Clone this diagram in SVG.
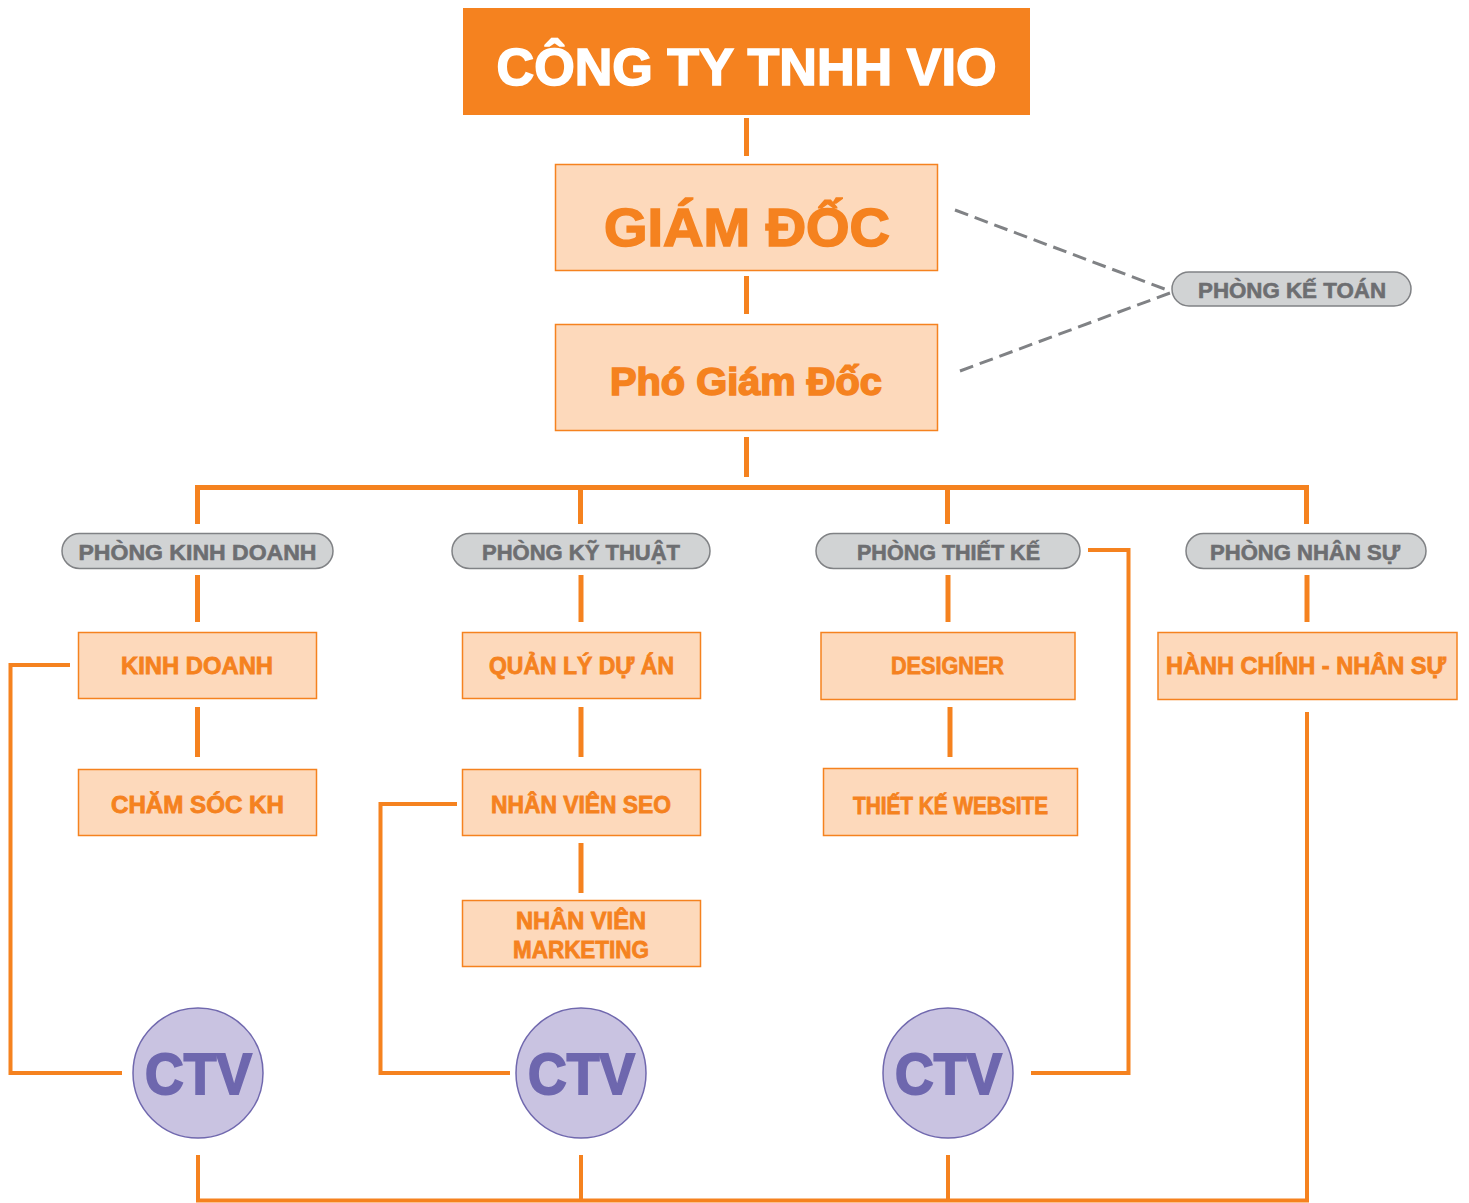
<svg xmlns="http://www.w3.org/2000/svg" width="1469" height="1203" viewBox="0 0 1469 1203">
<style>
.box{fill:#FDD9BB;stroke:#F5821F;stroke-width:1.5}
.pill{fill:#D1D3D4;stroke:#808285;stroke-width:1.5}
.ctv{fill:#C9C3E1;stroke:#7068AE;stroke-width:1.5}
.ot{font-family:"Liberation Sans",Arial,sans-serif;font-weight:bold;fill:#F5821F;stroke:#F5821F;stroke-width:0.8;text-anchor:middle}
.big{stroke-width:1.6}
.wt{fill:#FFFFFF;stroke:#FFFFFF}
.pt{fill:#6E67AE;stroke:#6E67AE;stroke-width:2}
.gt{font-family:"Liberation Sans",Arial,sans-serif;font-weight:bold;fill:#6D6E71;stroke:#6D6E71;stroke-width:0.6;text-anchor:middle;font-size:22px}
.bt{font-size:23px}
.line{stroke:#F5821F;stroke-width:5;fill:none}
.thin{stroke:#F5821F;stroke-width:4;fill:none}
.dash{stroke:#808285;stroke-width:3;fill:none;stroke-dasharray:14 7}
</style>
<g id="connectors">
<line class="line" x1="746.5" y1="118" x2="746.5" y2="156"/>
<line class="line" x1="746.5" y1="276" x2="746.5" y2="314"/>
<line class="line" x1="746.5" y1="437" x2="746.5" y2="477"/>
<path class="line" d="M197.5 524 V487.5 H1306.5 V524"/>
<line class="line" x1="580.5" y1="487" x2="580.5" y2="524"/>
<line class="line" x1="947.5" y1="487" x2="947.5" y2="524"/>
<line class="dash" x1="955" y1="210" x2="1170" y2="291"/>
<line class="dash" x1="960" y1="371" x2="1170" y2="293"/>
<line class="line" x1="197.5" y1="575" x2="197.5" y2="622"/>
<line class="line" x1="581" y1="575" x2="581" y2="622"/>
<line class="line" x1="948" y1="575" x2="948" y2="622"/>
<line class="line" x1="1307" y1="575" x2="1307" y2="622"/>
<line class="line" x1="197.5" y1="707" x2="197.5" y2="757"/>
<line class="line" x1="581" y1="707" x2="581" y2="757"/>
<line class="line" x1="950" y1="707" x2="950" y2="757"/>
<line class="line" x1="581" y1="843" x2="581" y2="893"/>
<path class="thin" d="M70 665 H10.5 V1073 H122"/>
<path class="thin" d="M457 804 H380.5 V1073 H510"/>
<path class="thin" d="M1088 550 H1128.5 V1073 H1031"/>
<path class="thin" d="M198 1155 V1200.5 H1307 V712"/>
<line class="thin" x1="581" y1="1155" x2="581" y2="1201"/>
<line class="thin" x1="948" y1="1155" x2="948" y2="1201"/>
</g>
<g id="cong-ty">
<rect x="463" y="8" width="567" height="107" fill="#F5821F"/>
<text class="ot big wt" x="746.5" y="85" font-size="52" textLength="500" lengthAdjust="spacingAndGlyphs">CÔNG TY TNHH VIO</text>
</g>
<g id="giam-doc">
<rect class="box" x="555.5" y="164.5" width="382" height="106"/>
<text class="ot big" x="747" y="246" font-size="54" textLength="286" lengthAdjust="spacingAndGlyphs">GIÁM ĐỐC</text>
</g>
<g id="pho-giam-doc">
<rect class="box" x="555.5" y="324.5" width="382" height="106"/>
<text class="ot big" x="746" y="395" font-size="38" textLength="272" lengthAdjust="spacingAndGlyphs">Phó Giám Đốc</text>
</g>
<g id="phong-ke-toan">
<rect class="pill" x="1172" y="272" width="239" height="34" rx="17"/>
<text class="gt" x="1292" y="298" textLength="188" lengthAdjust="spacingAndGlyphs">PHÒNG KẾ TOÁN</text>
</g>
<g id="phong-kinh-doanh">
<rect class="pill" x="62" y="533.5" width="271" height="35" rx="17.5"/>
<text class="gt" x="197.5" y="560" textLength="238" lengthAdjust="spacingAndGlyphs">PHÒNG KINH DOANH</text>
</g>
<g id="phong-ky-thuat">
<rect class="pill" x="452" y="533.5" width="258" height="35" rx="17.5"/>
<text class="gt" x="581" y="560" textLength="198" lengthAdjust="spacingAndGlyphs">PHÒNG KỸ THUẬT</text>
</g>
<g id="phong-thiet-ke">
<rect class="pill" x="816" y="533.5" width="264" height="35" rx="17.5"/>
<text class="gt" x="948.5" y="560" textLength="183" lengthAdjust="spacingAndGlyphs">PHÒNG THIẾT KẾ</text>
</g>
<g id="phong-nhan-su">
<rect class="pill" x="1186" y="533.5" width="240" height="35" rx="17.5"/>
<text class="gt" x="1305" y="560" textLength="190" lengthAdjust="spacingAndGlyphs">PHÒNG NHÂN SỰ</text>
</g>
<g id="kinh-doanh">
<rect class="box" x="78.5" y="632.5" width="238" height="66"/>
<text class="ot bt" x="197" y="674" textLength="152" lengthAdjust="spacingAndGlyphs">KINH DOANH</text>
</g>
<g id="quan-ly-du-an">
<rect class="box" x="462.5" y="632.5" width="238" height="66"/>
<text class="ot bt" x="581.5" y="674" textLength="185" lengthAdjust="spacingAndGlyphs">QUẢN LÝ DỰ ÁN</text>
</g>
<g id="designer">
<rect class="box" x="821" y="632.5" width="254" height="67"/>
<text class="ot bt" x="947.5" y="674" textLength="113" lengthAdjust="spacingAndGlyphs">DESIGNER</text>
</g>
<g id="hanh-chinh-nhan-su">
<rect class="box" x="1158" y="632.5" width="299" height="67"/>
<text class="ot bt" x="1306" y="674" textLength="280" lengthAdjust="spacingAndGlyphs">HÀNH CHÍNH - NHÂN SỰ</text>
</g>
<g id="cham-soc-kh">
<rect class="box" x="78.5" y="769.5" width="238" height="66"/>
<text class="ot bt" x="197.5" y="813" textLength="173" lengthAdjust="spacingAndGlyphs">CHĂM SÓC KH</text>
</g>
<g id="nhan-vien-seo">
<rect class="box" x="462.5" y="769.5" width="238" height="66"/>
<text class="ot bt" x="581" y="813" textLength="180" lengthAdjust="spacingAndGlyphs">NHÂN VIÊN SEO</text>
</g>
<g id="thiet-ke-website">
<rect class="box" x="823.5" y="768.5" width="254" height="67"/>
<text class="ot bt" x="950.5" y="814" textLength="195" lengthAdjust="spacingAndGlyphs">THIẾT KẾ WEBSITE</text>
</g>
<g id="nhan-vien-marketing">
<rect class="box" x="462.5" y="900.5" width="238" height="66"/>
<text class="ot bt" x="581" y="929" textLength="130" lengthAdjust="spacingAndGlyphs">NHÂN VIÊN</text>
<text class="ot bt" x="581" y="958" textLength="136" lengthAdjust="spacingAndGlyphs">MARKETING</text>
</g>
<g id="ctv-1">
<circle class="ctv" cx="198" cy="1073" r="65"/>
<text class="ot pt" x="198.5" y="1094" font-size="57" textLength="107" lengthAdjust="spacingAndGlyphs">CTV</text>
</g>
<g id="ctv-2">
<circle class="ctv" cx="581" cy="1073" r="65"/>
<text class="ot pt" x="581.5" y="1094" font-size="57" textLength="107" lengthAdjust="spacingAndGlyphs">CTV</text>
</g>
<g id="ctv-3">
<circle class="ctv" cx="948" cy="1073" r="65"/>
<text class="ot pt" x="948.5" y="1094" font-size="57" textLength="107" lengthAdjust="spacingAndGlyphs">CTV</text>
</g>
</svg>
